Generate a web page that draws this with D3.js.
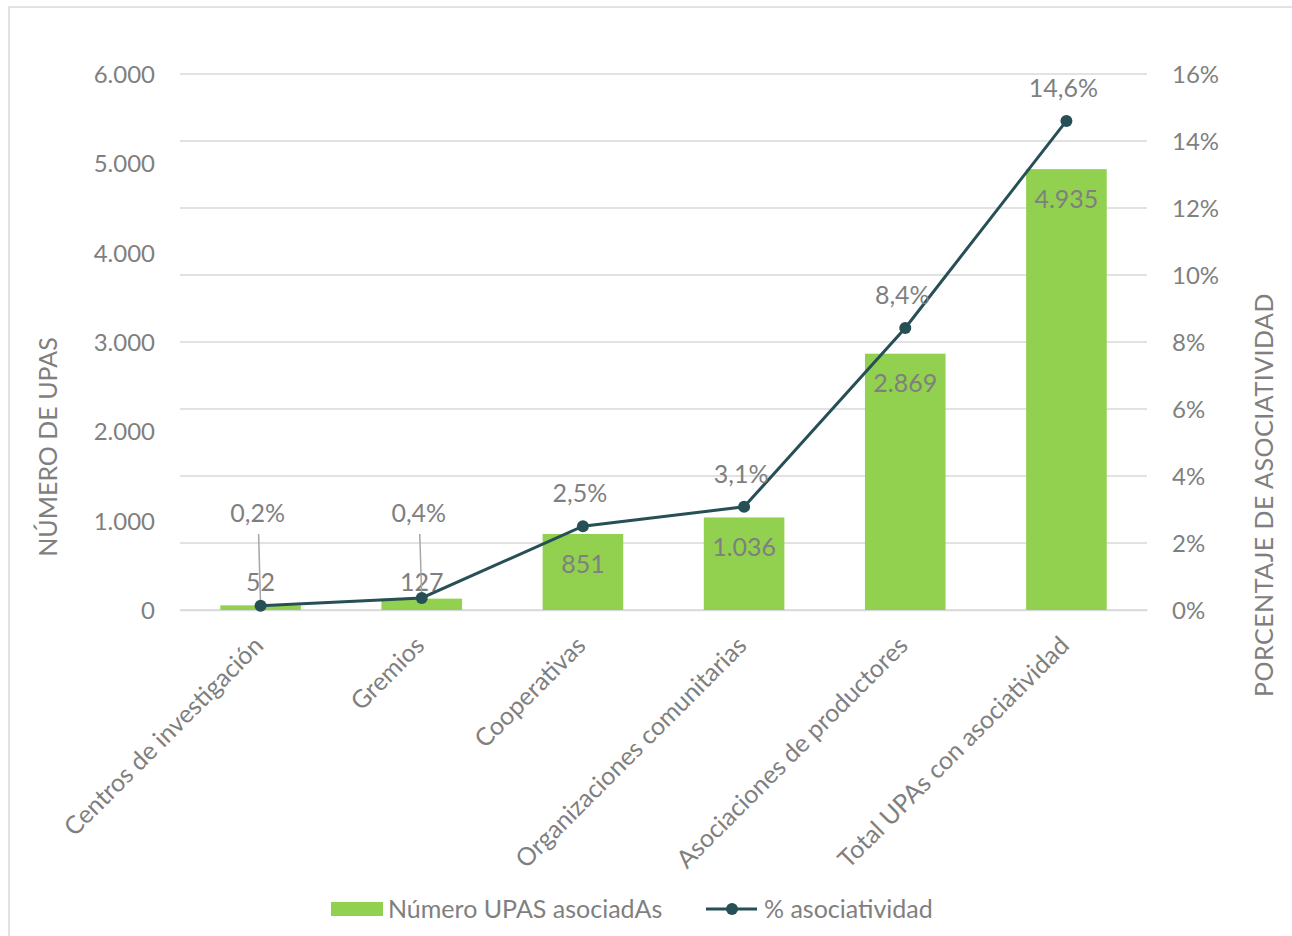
<!DOCTYPE html>
<html>
<head>
<meta charset="utf-8">
<script src="https://cdn.jsdelivr.net/npm/d3@7"></script>
<style>
  html, body { margin: 0; padding: 0; background: #fff; }
  svg { display: block; }
  text { font-family: Lato, "Open Sans", sans-serif; fill: #7f7f7f; }
</style>
</head>
<body>
<svg id="chart" width="1292" height="936"></svg>
<script>
const categories = ["Centros de investigación", "Gremios", "Cooperativas", "Organizaciones comunitarias", "Asociaciones de productores", "Total UPAs con asociatividad"];
const upas = [52, 127, 851, 1036, 2869, 4935];
const upasLabels = ["52", "127", "851", "1.036", "2.869", "4.935"];
const pct = [0.13, 0.36, 2.5, 3.08, 8.42, 14.6];
const pctLabels = ["0,2%", "0,4%", "2,5%", "3,1%", "8,4%", "14,6%"];
const leftTicks = [0, 1000, 2000, 3000, 4000, 5000, 6000];
const leftTickLabels = ["0", "1.000", "2.000", "3.000", "4.000", "5.000", "6.000"];
const rightTicks = [0, 2, 4, 6, 8, 10, 12, 14, 16];
const rightTickLabels = ["0%", "2%", "4%", "6%", "8%", "10%", "12%", "14%", "16%"];
const seriesNames = ["Número UPAS asociadAs", "% asociatividad"];

const barColor = "#92d050";
const lineColor = "#264f56";
const gridColor = "#d9d9d9";
const textColor = "#7f7f7f";
const FONT = "Lato, 'Open Sans', sans-serif";

const svg = d3.select("#chart");
const L = 180, R = 1147, T = 74, B = 610;

svg.append("rect").attr("x", 9).attr("y", 7).attr("width", 1400).attr("height", 1000)
  .attr("fill", "none").attr("stroke", "#d9d9d9").attr("stroke-width", 1.5);

const x = d3.scaleBand().domain(categories).range([L, R]).paddingInner(0.5).paddingOuter(0.25);
const yL = d3.scaleLinear().domain([0, 6000]).range([B, T]);
const yR = d3.scaleLinear().domain([0, 16]).range([B, T]);

// gridlines (secondary axis)
svg.append("g").selectAll("line").data(rightTicks).join("line")
  .attr("x1", L).attr("x2", R)
  .attr("y1", d => yR(d)).attr("y2", d => yR(d))
  .attr("stroke", gridColor).attr("stroke-width", 1.5);

// left axis
const axL = d3.axisLeft(yL).tickValues(leftTicks).tickSize(0).tickPadding(0)
  .tickFormat((d, i) => leftTickLabels[i]);
const gL = svg.append("g").attr("transform", `translate(${L - 25},0)`).call(axL);
gL.select(".domain").remove();
gL.selectAll("text").style("font-size", "24px").attr("fill", textColor).attr("dy", "0.35em")
  .style("font-family", FONT);

// right axis
const axR = d3.axisRight(yR).tickValues(rightTicks).tickSize(0).tickPadding(0)
  .tickFormat((d, i) => rightTickLabels[i]);
const gR = svg.append("g").attr("transform", `translate(${R + 25},0)`).call(axR);
gR.select(".domain").remove();
gR.selectAll("text").style("font-size", "24px").attr("fill", textColor).attr("dy", "0.35em")
  .style("font-family", FONT);

// bottom axis labels
const axB = d3.axisBottom(x).tickSize(0).tickPadding(0);
const gB = svg.append("g").attr("transform", `translate(0,${B})`).call(axB);
gB.select(".domain").attr("stroke", gridColor).attr("stroke-width", 1.5);
gB.selectAll("text")
  .style("font-size", "25px").attr("fill", textColor)
  .style("font-family", FONT)
  .attr("text-anchor", "end")
  .attr("dy", "0.35em")
  .attr("transform", "translate(-2,31) rotate(-45)");
gB.selectAll("text").attr("y", 0).attr("x", 0);

// bars
svg.append("g").selectAll("rect").data(upas).join("rect")
  .attr("x", (d, i) => x(categories[i]))
  .attr("width", x.bandwidth())
  .attr("y", d => yL(d))
  .attr("height", d => B - yL(d))
  .attr("fill", barColor);

// bar labels
svg.append("g").selectAll("text").data(upas).join("text")
  .attr("x", (d, i) => x(categories[i]) + x.bandwidth() / 2)
  .attr("y", d => { const t = yL(d) + 30; return t > 590 ? 582 : t; })
  .attr("dy", "0.35em")
  .attr("text-anchor", "middle")
  .style("font-size", "25px")
  .text((d, i) => upasLabels[i]);

// line
const cx = i => x(categories[i]) + x.bandwidth() / 2;
const line = d3.line().x((d, i) => cx(i)).y(d => yR(d));
svg.append("path").datum(pct).attr("d", line)
  .attr("fill", "none").attr("stroke", lineColor).attr("stroke-width", 3);

// leader lines for first two
const leaderIdx = [0, 1];
svg.append("g").selectAll("line").data(leaderIdx).join("line")
  .attr("x1", i => cx(i) - 2).attr("y1", 534)
  .attr("x2", i => cx(i)).attr("y2", i => yR(pct[i]))
  .attr("stroke", "#a6a6a6").attr("stroke-width", 1.5);

svg.append("g").selectAll("circle").data(pct).join("circle")
  .attr("cx", (d, i) => cx(i)).attr("cy", d => yR(d)).attr("r", 6)
  .attr("fill", lineColor);

// pct labels
svg.append("g").selectAll("text").data(pct).join("text")
  .attr("x", (d, i) => cx(i) - 3)
  .attr("y", (d, i) => i < 2 ? 513 : yR(d) - 33)
  .attr("dy", "0.35em")
  .attr("text-anchor", "middle")
  .style("font-size", "25px")
  .text((d, i) => pctLabels[i]);

// axis titles
svg.append("text").attr("transform", "translate(57,447) rotate(-90)")
  .attr("text-anchor", "middle").style("font-size", "25px").text("NÚMERO DE UPAS");
svg.append("text").attr("transform", "translate(1273,495) rotate(-90)")
  .attr("text-anchor", "middle").style("font-size", "25px").style("letter-spacing", "0.5px").text("PORCENTAJE DE ASOCIATIVIDAD");

// legend
const lg = svg.append("g");
lg.append("rect").attr("x", 331).attr("y", 902).attr("width", 52).attr("height", 14).attr("fill", barColor);
lg.append("text").attr("x", 388).attr("y", 909).attr("dy", "0.35em").style("font-size", "25px").text(seriesNames[0]);
lg.append("line").attr("x1", 706).attr("x2", 757).attr("y1", 909).attr("y2", 909)
  .attr("stroke", lineColor).attr("stroke-width", 3);
lg.append("circle").attr("cx", 732).attr("cy", 909).attr("r", 6).attr("fill", lineColor);
lg.append("text").attr("x", 764).attr("y", 909).attr("dy", "0.35em").style("font-size", "25px").text(seriesNames[1]);
</script>
</body>
</html>
